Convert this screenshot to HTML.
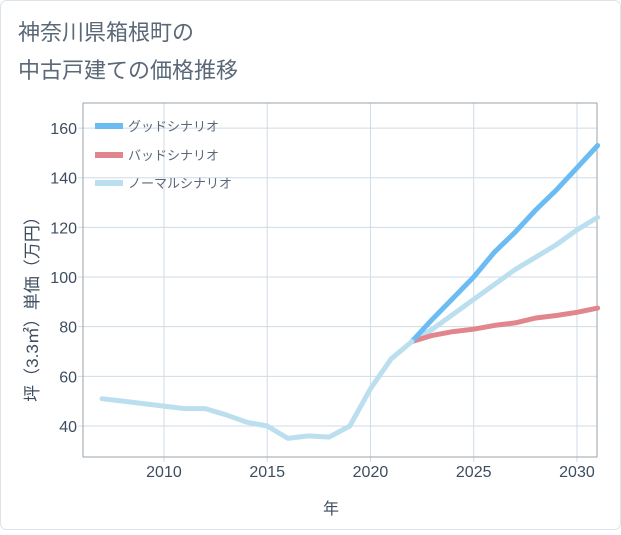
<!DOCTYPE html>
<html><head><meta charset="utf-8"><style>
body{margin:0;background:#fff;}
.wrap{position:relative;width:621px;height:530px;font-family:"Liberation Sans","Noto Sans CJK JP",sans-serif;}
</style></head><body>
<div class="wrap">
<svg width="621" height="530">
<rect x="0.5" y="0.5" width="620" height="529" rx="6" fill="#fff" stroke="#dde3ea"/>
<text x="18" y="40" font-size="22" fill="#5a6878">神奈川県箱根町の</text>
<text x="18" y="78" font-size="22" fill="#5a6878">中古戸建ての価格推移</text>
<g id="grid"></g>
<rect x="83" y="103" width="514" height="354" fill="none" stroke="#9aa3ad"/>
<g id="series"></g>
<g id="axes"></g>
<text x="331" y="514" font-size="16" fill="#3d4d61" text-anchor="middle">年</text>
<text transform="translate(38,305) rotate(-90)" font-size="17" fill="#3d4d61" text-anchor="middle">坪（3.3㎡）単価（万円）</text>
<g>
<line x1="95" y1="126" x2="123" y2="126" stroke="#6bbcf2" stroke-width="6"/>
<text x="128" y="131" font-size="13" fill="#5a6878">グッドシナリオ</text>
<line x1="95" y1="155" x2="123" y2="155" stroke="#e0868c" stroke-width="6"/>
<text x="128" y="160" font-size="13" fill="#5a6878">バッドシナリオ</text>
<line x1="95" y1="183" x2="123" y2="183" stroke="#bcdff0" stroke-width="6"/>
<text x="128" y="188" font-size="13" fill="#5a6878">ノーマルシナリオ</text>
</g>
</svg>
</div>
<script>
const histYears=[2007,2008,2009,2010,2011,2012,2013,2014,2015,2016,2017,2018,2019,2020,2021,2022];
const histValues=[51,50,49,48,47,47,44.5,41.5,40,35,36,35.5,40,55,67,74];
const fcYears=[2022,2023,2024,2025,2026,2027,2028,2029,2030,2031];
const goodValues=[74,83,91.5,100,110,118,127,135,144,153];
const badValues=[74,76.5,78,79,80.5,81.5,83.5,84.5,85.8,87.5];
const normalValues=[74,79,85,91,97,103,108,113,119,124];
const xTicks=[2010,2015,2020,2025,2030];
const yTicks=[40,60,80,100,120,140,160];
const NS="http://www.w3.org/2000/svg";
const X0=83,X1=597,Y0=103,Y1=457,xmin=2006.08,xmax=2030.97,ymin=27.5,ymax=170.1;
const xs=v=>X0+(v-xmin)/(xmax-xmin)*(X1-X0);
const ys=v=>Y1-(v-ymin)/(ymax-ymin)*(Y1-Y0);
const grid=document.getElementById('grid'),axes=document.getElementById('axes'),series=document.getElementById('series');
function mk(tag,attrs,parent){const e=document.createElementNS(NS,tag);for(const k in attrs)e.setAttribute(k,attrs[k]);parent.appendChild(e);return e;}
xTicks.forEach(t=>{
 const l=mk('line',{x1:xs(t),x2:xs(t),y1:Y0,y2:Y1+5,stroke:'#cfdbe6','stroke-width':1},grid);
 
 
 const tx=mk('text',{x:xs(t),y:477,'font-size':16,fill:'#3d4d61','text-anchor':'middle'},axes);
 tx.textContent=t;
 
 
});
yTicks.forEach(t=>{
 const l=mk('line',{x1:X0-5,x2:X1,y1:ys(t),y2:ys(t),stroke:'#cfdbe6','stroke-width':1},grid);
 
 
 const tx=mk('text',{x:77,y:ys(t)+6,'font-size':16,fill:'#3d4d61','text-anchor':'end'},axes);
 tx.textContent=t;
 
 
});
function line(xv,yv,color,name){
 const d=xv.map((x,i)=>(i?'L':'M')+xs(x).toFixed(1)+','+ys(yv[i]).toFixed(1)).join('');
 const p=mk('path',{d:d,fill:'none',stroke:color,'stroke-width':5,'stroke-linejoin':'round','stroke-linecap':'round'},series);
 
 
}
line(fcYears,normalValues,'#bcdff0','normal-scenario-line');
line(fcYears,badValues,'#e0868c','bad-scenario-line');
line(fcYears,goodValues,'#6bbcf2','good-scenario-line');
line(histYears,histValues,'#bcdff0','historical-line');
</script>
</body></html>
